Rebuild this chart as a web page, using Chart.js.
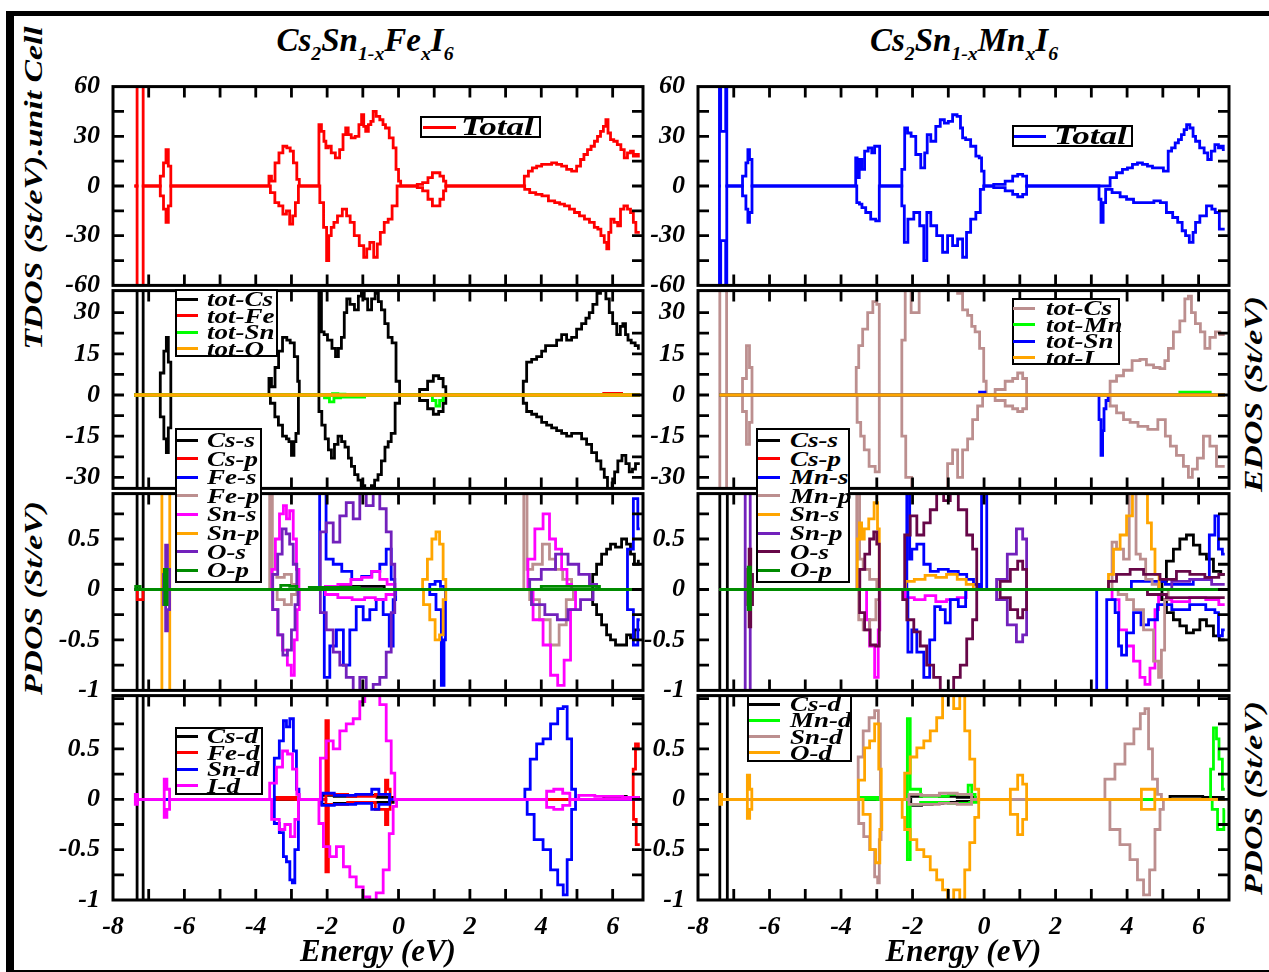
<!DOCTYPE html>
<html>
<head>
<meta charset="utf-8">
<script src="https://cdn.jsdelivr.net/npm/chart.js@4.4.1/dist/chart.umd.min.js"></script>
<style>
  body { margin: 0; background: #fff; overflow: hidden; width: 1269px; height: 972px; position: relative; }
  .t { position: absolute; white-space: nowrap; color: #000; font-family: "Liberation Serif", "DejaVu Serif", serif; font-weight: bold; font-style: italic; }
  .frame { position: absolute; left: 6px; top: 11px; width: 1280px; height: 954px; border-left: 8px solid #000; border-top: 5px solid #000; border-bottom: 3px solid #000; }
  .panel { position: absolute; }
  .leg { position: absolute; border: 2px solid #000; background: #fff; box-sizing: border-box; }
  .sw { position: absolute; height: 3px; }
  .lb { transform: scaleX(1.35); transform-origin: 0 50%; }
  .rot { transform: translate(-50%, -50%) rotate(-90deg) scaleX(1.35); }
  sub { font-size: 0.6em; vertical-align: -0.45em; line-height: 0; }
</style>
</head>
<body>
<div class="frame"></div>
<div class="t" style="left:365px;top:22px;font-size:33px;transform:translateX(-50%)">Cs<sub>2</sub>Sn<sub>1-x</sub>Fe<sub>x</sub>I<sub>6</sub></div>
<div class="t" style="left:964px;top:22px;font-size:33px;transform:translateX(-50%)">Cs<sub>2</sub>Sn<sub>1-x</sub>Mn<sub>x</sub>I<sub>6</sub></div>
<div class="t rot" style="left:34px;top:188px;font-size:25px">TDOS (St/eV).unit Cell</div>
<div class="t rot" style="left:34px;top:598px;font-size:25px">PDOS (St/eV)</div>
<div class="t rot" style="left:1254px;top:394px;font-size:25px">EDOS (St/eV)</div>
<div class="t rot" style="left:1254px;top:798px;font-size:25px">PDOS (St/eV)</div>
<script>
// ---------- labels / categories ----------
const totalNames = ['Total'];
const feEdosNames = ['tot-Cs', 'tot-Fe', 'tot-Sn', 'tot-O'];
const mnEdosNames = ['tot-Cs', 'tot-Mn', 'tot-Sn', 'tot-I'];
const feSpNames = ['Cs-s', 'Cs-p', 'Fe-s', 'Fe-p', 'Sn-s', 'Sn-p', 'O-s', 'O-p'];
const mnSpNames = ['Cs-s', 'Cs-p', 'Mn-s', 'Mn-p', 'Sn-s', 'Sn-p', 'O-s', 'O-p'];
const feDNames = ['Cs-d', 'Fe-d', 'Sn-d', 'I-d'];
const mnDNames = ['Cs-d', 'Mn-d', 'Sn-d', 'O-d'];

// ---------- tick labels ----------
const energyLabels = [-8, -6, -4, -2, 0, 2, 4, 6];
const tdosLabels = [60, 30, 0, -30, -60];
const edosLabels = [30, 15, 0, -15, -30];
const pdosLabels = [0.5, 0, -0.5, -1];

// ---------- TDOS, Fe ----------
const feTotalUp = [[-7.40,0],[-7.33,0],[-7.32,150],[-7.16,150],[-7.15,0],
  [-6.73,0],[-6.62,6],[-6.55,14],[-6.48,22],[-6.42,12],[-6.34,0],
  [-3.66,0],[-3.60,6],[-3.52,3],[-3.40,14],[-3.30,20],[-3.18,24],[-3.08,23],[-2.99,21],[-2.90,14],[-2.80,4],[-2.76,0],
  [-2.26,0],[-2.20,37],[-2.12,33],[-2.06,27],[-2.01,23],[-1.93,24],[-1.84,20],[-1.70,17],[-1.60,22],[-1.51,31],[-1.45,35],[-1.37,31],[-1.28,29],[-1.15,30],[-1.07,37],[-1.00,43],[-0.95,36],[-0.89,33],[-0.80,37],[-0.75,39],[-0.67,45],[-0.58,42],[-0.47,40],[-0.40,37],[-0.33,35],[-0.19,29],[-0.11,23],[-0.03,10],[0.03,3],[0.09,0],
  [0.45,0],[0.60,1],[0.75,2],[0.90,5],[1.00,8],[1.10,8],[1.22,6],[1.30,3],[1.35,0],
  [3.47,0],[3.58,6],[3.70,9],[3.80,11],[3.94,12],[4.08,13],[4.22,13],[4.36,14],[4.50,13],[4.64,12],[4.78,10],[4.92,9],[5.06,12],[5.14,16],[5.25,19],[5.34,22],[5.45,24],[5.53,27],[5.62,30],[5.70,33],[5.78,36],[5.84,40],[5.90,32],[5.98,28],[6.08,27],[6.18,25],[6.28,22],[6.37,17],[6.46,20],[6.54,21],[6.62,18],[6.68,19],[6.76,18]];
const feTotalDn = [[-7.40,0],[-7.33,0],[-7.32,-150],[-7.16,-150],[-7.15,0],
  [-6.73,0],[-6.62,-6],[-6.55,-14],[-6.48,-22],[-6.42,-12],[-6.34,0],
  [-3.66,0],[-3.52,-4],[-3.41,-10],[-3.30,-12],[-3.18,-17],[-3.10,-15],[-3.00,-23],[-2.93,-18],[-2.85,-10],[-2.76,0],
  [-2.26,0],[-2.15,-10],[-2.05,-25],[-1.98,-45],[-1.93,-30],[-1.84,-25],[-1.78,-22],[-1.64,-18],[-1.51,-14],[-1.40,-18],[-1.31,-22],[-1.17,-30],[-1.03,-36],[-0.92,-43],[-0.86,-38],[-0.75,-34],[-0.64,-43],[-0.55,-35],[-0.47,-28],[-0.33,-22],[-0.25,-20],[-0.11,-12],[0.03,0],
  [0.45,0],[0.60,-1],[0.75,-3],[0.90,-8],[1.00,-12],[1.10,-12],[1.22,-8],[1.30,-3],[1.35,0],
  [3.47,0],[3.60,-2],[3.75,-4],[3.94,-5],[4.10,-6],[4.30,-9],[4.45,-10],[4.58,-11],[4.72,-12],[4.86,-14],[5.00,-16],[5.14,-18],[5.28,-20],[5.42,-22],[5.55,-25],[5.62,-26],[5.72,-30],[5.81,-34],[5.86,-38],[5.92,-28],[5.98,-20],[6.10,-22],[6.18,-24],[6.26,-14],[6.37,-12],[6.46,-14],[6.54,-16],[6.62,-22],[6.68,-28],[6.76,-28]];

// ---------- TDOS, Mn ----------
const mnTotalUp = [[-7.42,0],[-7.38,150],[-7.35,33],[-7.24,33],[-7.21,150],[-7.18,0],
  [-6.81,0],[-6.70,6],[-6.62,14],[-6.59,22],[-6.53,16],[-6.45,0],
  [-3.60,0],[-3.58,17],[-3.52,5],[-3.46,16],[-3.38,10],[-3.30,21],[-3.18,23],[-3.10,20],[-3.02,24],[-2.94,24],[-2.90,0],
  [-2.34,0],[-2.26,10],[-2.18,35],[-2.10,32],[-1.98,30],[-1.84,19],[-1.70,11],[-1.62,20],[-1.56,31],[-1.42,27],[-1.28,36],[-1.17,40],[-1.05,38],[-0.95,39],[-0.81,43],[-0.70,42],[-0.62,35],[-0.58,29],[-0.45,28],[-0.30,24],[-0.16,18],[-0.11,17],[-0.03,9],[0.03,0],
  [0.09,0],[0.45,1],[0.73,3],[0.87,6],[1.01,7],[1.15,6],[1.23,0],
  [3.44,0],[3.61,5],[3.80,8],[3.94,10],[4.08,11],[4.22,13],[4.36,14],[4.50,13],[4.64,12],[4.78,11],[4.92,11],[5.11,9],[5.19,21],[5.30,23],[5.39,26],[5.48,28],[5.56,31],[5.63,34],[5.70,37],[5.81,35],[5.88,30],[5.95,27],[6.11,23],[6.20,20],[6.31,16],[6.40,21],[6.51,25],[6.60,23],[6.65,24],[6.73,22]];
const mnTotalDn = [[-7.42,0],[-7.38,-150],[-7.35,-33],[-7.24,-33],[-7.21,-150],[-7.18,0],
  [-6.81,0],[-6.70,-6],[-6.62,-14],[-6.59,-22],[-6.53,-16],[-6.45,0],
  [-3.60,0],[-3.52,-10],[-3.45,-11],[-3.38,-13],[-3.24,-16],[-3.10,-20],[-2.96,-21],[-2.90,0],
  [-2.34,0],[-2.26,-12],[-2.20,-34],[-2.06,-20],[-1.87,-16],[-1.73,-24],[-1.64,-45],[-1.56,-16],[-1.42,-24],[-1.23,-30],[-1.09,-40],[-0.95,-30],[-0.81,-36],[-0.67,-32],[-0.53,-43],[-0.45,-28],[-0.30,-20],[-0.16,-16],[-0.05,-2],[0.03,0],
  [0.09,0],[0.45,-1],[0.73,-3],[0.87,-5],[1.01,-6.5],[1.15,-5],[1.23,0],
  [3.19,0],[3.24,-8],[3.30,-22],[3.36,-10],[3.44,-2],[3.72,-4],[3.89,-6.5],[4.08,-8],[4.28,-10],[4.46,-10],[4.64,-10],[4.86,-9],[5.00,-10],[5.20,-16],[5.35,-19],[5.48,-22],[5.60,-27],[5.67,-30],[5.81,-34],[5.88,-28],[5.95,-22],[6.12,-18],[6.32,-12],[6.42,-14],[6.51,-16],[6.65,-26],[6.73,-26]];

// ---------- EDOS, Fe ----------
const feTotCsUp = [[-7.40,0],[-7.33,0],[-7.32,100],[-7.16,100],[-7.15,0],
  [-6.73,0],[-6.62,8],[-6.53,16],[-6.48,21],[-6.42,12],[-6.34,0],
  [-3.66,0],[-3.60,6],[-3.52,3],[-3.40,10],[-3.32,16],[-3.18,21],[-3.08,20],[-2.99,19],[-2.85,14],[-2.80,5],[-2.76,0],
  [-2.26,0],[-2.20,37],[-2.12,23],[-2.05,22],[-1.93,20],[-1.80,17],[-1.73,14],[-1.64,17],[-1.56,21],[-1.48,30],[-1.42,35],[-1.30,33],[-1.17,31],[-1.08,36],[-1.00,40],[-0.92,35],[-0.81,31],[-0.70,35],[-0.61,37],[-0.52,34],[-0.44,31],[-0.33,26],[-0.25,21],[-0.11,19],[-0.03,5],[0.09,0],
  [0.45,0],[0.73,2],[0.90,5],[1.05,7],[1.20,6],[1.30,3],[1.35,0],
  [3.47,0],[3.52,5],[3.66,12],[3.80,13],[3.94,14],[4.08,16],[4.16,18],[4.36,18],[4.50,20],[4.64,22],[4.78,20],[4.92,21],[5.06,24],[5.20,26],[5.30,28],[5.39,30],[5.50,33],[5.62,37],[5.70,39],[5.76,40],[5.86,35],[5.95,30],[6.05,26],[6.18,22],[6.25,25],[6.32,26],[6.40,22],[6.46,20],[6.58,19],[6.68,18],[6.76,17]];
const feTotCsDn = [[-7.40,0],[-7.33,0],[-7.32,-100],[-7.16,-100],[-7.15,0],
  [-6.73,0],[-6.62,-8],[-6.53,-16],[-6.48,-21],[-6.42,-12],[-6.34,0],
  [-3.66,0],[-3.52,-3],[-3.41,-8],[-3.32,-11],[-3.18,-15],[-3.10,-16],[-3.04,-17],[-2.96,-22],[-2.90,-17],[-2.85,-14],[-2.76,0],
  [-2.26,0],[-2.20,-6],[-2.10,-11],[-2.01,-16],[-1.92,-20],[-1.84,-23],[-1.75,-18],[-1.64,-15],[-1.55,-17],[-1.45,-19],[-1.36,-23],[-1.28,-26],[-1.18,-29],[-1.09,-31],[-1.00,-33],[-0.89,-36],[-0.80,-35],[-0.72,-33],[-0.62,-31],[-0.53,-29],[-0.43,-24],[-0.33,-19],[-0.25,-17],[-0.16,-14],[-0.03,-3],[0.09,0],
  [0.45,0],[0.73,-2],[0.90,-5],[1.05,-7],[1.20,-6],[1.30,-3],[1.35,0],
  [3.47,0],[3.52,-3],[3.66,-6],[3.80,-7],[3.94,-8],[4.08,-10],[4.22,-11],[4.36,-12],[4.50,-13],[4.64,-14],[4.78,-15],[4.92,-14],[5.06,-14],[5.20,-16],[5.34,-18],[5.48,-21],[5.62,-24],[5.72,-27],[5.81,-30],[5.90,-34],[5.95,-36],[6.02,-32],[6.09,-28],[6.20,-24],[6.32,-22],[6.42,-25],[6.51,-28],[6.60,-27],[6.68,-25],[6.76,-25]];
const feTotFeUp = [[-7.40,0],[5.70,0],[5.80,0.6],[6.20,0.6],[6.30,0],[6.76,0]];
const feTotFeDn = [[-7.40,0],[6.76,0]];
const feTotSnUp = [[-7.40,0],[-1.90,0],[-1.80,0.5],[-1.60,0.3],[-1.40,0],[6.76,0]];
const feTotSnDn = [[-7.40,0],[-2.15,0],[-2.00,-1],[-1.87,-2.5],[-1.75,-1],[-1.50,-0.8],[-1.00,-0.8],[-0.90,0],[0.90,0],[1.00,-2],[1.10,-4],[1.20,-2],[1.30,0],[6.76,0]];
const feTotOUp = [[-7.40,0],[6.76,0]];
const feTotODn = [[-7.40,0],[6.76,0]];

// ---------- EDOS, Mn ----------
const mnTotCsUp = [[-7.40,0],[-7.38,100],[-7.21,100],[-7.19,0],
  [-6.81,0],[-6.70,6],[-6.59,18],[-6.53,10],[-6.45,0],
  [-3.60,0],[-3.55,10],[-3.46,18],[-3.33,24],[-3.18,30],[-3.04,34],[-2.96,33],[-2.90,0],
  [-2.34,0],[-2.26,20],[-2.15,40],[-1.93,30],[-1.70,40],[-1.45,45],[-1.20,42],[-0.95,40],[-0.81,38],[-0.67,37],[-0.53,31],[-0.39,29],[-0.30,25],[-0.20,23],[-0.05,17],[0.03,5],[0.09,0],
  [0.17,0],[0.45,2],[0.73,5],[0.87,6],[1.01,8],[1.15,6],[1.23,0],
  [3.44,0],[3.61,5],[3.80,7],[4.00,9],[4.28,12.5],[4.44,13],[4.64,11],[4.84,10],[5.00,9.6],[5.11,12.5],[5.20,17],[5.39,23],[5.56,27],[5.67,35],[5.76,36],[5.84,30],[5.98,26],[6.12,23],[6.23,17],[6.40,21],[6.54,23],[6.65,22],[6.73,22]];
const mnTotCsDn = [[-7.40,0],[-7.38,-100],[-7.21,-100],[-7.19,0],
  [-6.81,0],[-6.70,-6],[-6.59,-18],[-6.53,-10],[-6.45,0],
  [-3.60,0],[-3.50,-10],[-3.40,-15],[-3.30,-20],[-3.13,-26],[-2.96,-28],[-2.90,0],
  [-2.34,0],[-2.26,-15],[-2.12,-30],[-1.93,-40],[-1.59,-40],[-1.28,-40],[-1.09,-38],[-0.95,-25],[-0.81,-20],[-0.67,-30],[-0.53,-20],[-0.39,-16],[-0.25,-9],[-0.11,-4],[0.03,0],
  [0.17,0],[0.45,-2],[0.73,-4],[0.87,-5],[1.01,-6],[1.15,-5],[1.23,0],
  [3.44,0],[3.61,-4],[3.80,-6.5],[4.00,-9],[4.17,-10],[4.44,-11.4],[4.72,-12.5],[5.00,-9],[5.14,-15],[5.28,-18.6],[5.48,-22],[5.67,-26],[5.76,-30],[5.89,-27],[6.04,-23],[6.23,-15],[6.40,-18.6],[6.60,-26],[6.73,-26]];
const mnTotMnUp = [[-7.40,0],[5.45,0],[5.50,1],[6.30,1],[6.35,0],[6.73,0]];
const mnTotMnDn = [[-7.40,0],[6.73,0]];
const mnTotSnUp = [[-7.40,0],[-0.15,0],[-0.10,1],[0.00,1],[0.05,0],[6.73,0]];
const mnTotSnDn = [[-7.40,0],[3.19,0],[3.24,-9],[3.30,-22],[3.33,-13],[3.38,-5],[3.44,-2],[3.50,0],[6.73,0]];
const mnTotIUp = [[-7.40,0],[6.73,0]];
const mnTotIDn = [[-7.40,0],[6.73,0]];

// ---------- PDOS s,p, Fe ----------
const feCssUp = [[-7.40,0],[-7.33,0],[-7.32,5],[-7.16,5],[-7.15,0],[-2.2,0],[-1.5,0.03],[-0.8,0.03],[0,0],[5.40,0],[5.48,0.15],[5.62,0.25],[5.76,0.35],[5.90,0.4],[5.98,0.45],[6.18,0.42],[6.32,0.5],[6.46,0.45],[6.54,0.35],[6.68,0.25],[6.76,0.28]];
const feCssDn = [[-7.40,0],[-7.33,0],[-7.32,-5],[-7.16,-5],[-7.15,0],[5.40,0],[5.48,-0.15],[5.62,-0.25],[5.76,-0.35],[5.90,-0.45],[5.98,-0.5],[6.18,-0.55],[6.32,-0.55],[6.46,-0.45],[6.54,-0.48],[6.68,-0.4],[6.76,-0.4]];
const feCspUp = [[-7.40,0],[6.76,0]];
const feCspDn = [[-7.40,0],[-7.33,0],[-7.31,-0.1],[-7.17,-0.1],[-7.15,0],[6.76,0]];
const feFesUp = [[-7.40,0],[-2.22,0],[-2.20,1.5],[-2.05,1.5],[-2.01,0.3],[-1.93,0.3],[-1.73,0.25],[-1.45,0.18],[-1.17,0.1],[-0.89,0.13],[-0.61,0.18],[-0.44,0.25],[-0.25,0.4],[-0.16,0.1],[-0.05,0],[0.80,0],[0.95,0.05],[1.10,0.08],[1.25,0.03],[1.32,0],[6.32,0],[6.51,0.4],[6.65,0.9],[6.76,0.6]];
const feFesDn = [[-7.40,0],[-2.15,0],[-2.01,-0.87],[-1.84,-0.56],[-1.64,-0.4],[-1.45,-0.75],[-1.28,-0.4],[-1.09,-0.17],[-0.89,-0.3],[-0.72,-0.2],[-0.53,-0.1],[-0.33,-0.25],[-0.19,-0.56],[-0.11,-0.1],[-0.05,0],[0.80,0],[0.95,-0.05],[1.15,-0.2],[1.25,-0.95],[1.30,-0.5],[1.33,0],[6.32,0],[6.51,-0.2],[6.65,-0.55],[6.76,-0.3]];
const feFepUp = [[-7.40,0],[-3.62,0],[-3.60,1.5],[-3.55,1.5],[-3.52,0.15],[-3.30,0.12],[-3.10,0.15],[-2.90,0.05],[-2.80,0],[3.50,0],[3.52,1.5],[3.58,1.5],[3.62,0.2],[3.90,0.25],[4.16,0.45],[4.30,0.3],[4.50,0.2],[4.70,0.1],[5.00,0],[6.76,0]];
const feFepDn = [[-7.40,0],[-3.50,0],[-3.30,-0.1],[-3.10,-0.15],[-2.90,-0.05],[-2.80,0],[3.55,0],[3.80,-0.1],[4.10,-0.3],[4.40,-0.55],[4.60,-0.35],[4.80,-0.1],[5.00,0],[6.76,0]];
const feSnsUp = [[-7.40,0],[-3.60,0],[-3.50,0.2],[-3.40,0.5],[-3.27,0.75],[-3.18,0.83],[-3.10,0.7],[-3.00,0.78],[-2.90,0.5],[-2.82,0.2],[-2.76,0],[-2.20,0],[-1.90,0.03],[-1.50,0.05],[-1.17,0.1],[-0.89,0.12],[-0.61,0.18],[-0.44,0.1],[-0.20,0.05],[0,0],[3.55,0],[3.70,0.3],[3.94,0.6],[4.16,0.75],[4.30,0.5],[4.50,0.4],[4.64,0.2],[4.80,0.05],[4.90,0],[6.76,0]];
const feSnsDn = [[-7.40,0],[-3.60,0],[-3.45,-0.2],[-3.32,-0.45],[-3.18,-0.6],[-3.05,-0.75],[-2.96,-0.85],[-2.88,-0.5],[-2.80,-0.2],[-2.76,0],[-2.20,0],[-1.90,-0.05],[-1.50,-0.08],[-1.10,-0.1],[-0.80,-0.08],[-0.50,-0.1],[-0.20,-0.05],[0,0],[3.60,0],[3.94,-0.3],[4.16,-0.55],[4.36,-0.85],[4.56,-0.95],[4.72,-0.7],[4.92,-0.2],[5.00,0],[6.76,0]];
const feSnpUp = [[-7.40,0],[-6.64,0],[-6.62,1.5],[-6.42,1.5],[-6.40,0],[0.60,0],[0.75,0.1],[0.87,0.3],[1.00,0.5],[1.10,0.57],[1.20,0.45],[1.30,0.1],[1.35,0],[6.76,0]];
const feSnpDn = [[-7.40,0],[-6.64,0],[-6.62,-1.5],[-6.42,-1.5],[-6.40,0],[0.60,0],[0.80,-0.15],[0.95,-0.3],[1.10,-0.5],[1.20,-0.45],[1.30,-0.1],[1.35,0],[6.76,0]];
const feOsUp = [[-7.40,0],[-6.62,0],[-6.55,0.15],[-6.50,0.44],[-6.45,0.2],[-6.38,0],[-3.60,0],[-3.45,0.15],[-3.32,0.35],[-3.20,0.6],[-3.10,0.55],[-3.00,0.45],[-2.90,0.25],[-2.80,0],[-2.26,0],[-2.12,0.57],[-1.93,0.66],[-1.73,0.47],[-1.56,0.73],[-1.37,0.86],[-1.17,0.7],[-1.00,0.98],[-0.81,0.83],[-0.61,1.05],[-0.44,0.8],[-0.25,0.57],[-0.16,0.25],[-0.05,0],[3.55,0],[3.80,0.1],[4.20,0.2],[4.60,0.35],[4.90,0.25],[5.20,0.15],[5.50,0.05],[5.60,0],[6.76,0]];
const feOsDn = [[-7.40,0],[-6.62,0],[-6.55,-0.15],[-6.50,-0.41],[-6.45,-0.2],[-6.38,0],[-3.60,0],[-3.45,-0.2],[-3.30,-0.45],[-3.18,-0.65],[-3.05,-0.6],[-2.95,-0.4],[-2.85,-0.15],[-2.78,0],[-2.26,0],[-2.12,-0.23],[-1.93,-0.4],[-1.73,-0.62],[-1.56,-0.75],[-1.37,-0.87],[-1.17,-1.05],[-1.00,-0.87],[-0.81,-1.05],[-0.61,-0.94],[-0.44,-0.87],[-0.25,-0.62],[-0.16,-0.23],[-0.05,0],[3.55,0],[3.90,-0.15],[4.30,-0.25],[4.60,-0.3],[4.90,-0.2],[5.30,-0.1],[5.60,0],[6.76,0]];
const feOpUp = [[-7.40,0],[-7.33,0.03],[-7.15,0],[-6.60,0],[-6.52,0.2],[-6.45,0],[-3.40,0],[-3.20,0.04],[-2.90,0.03],[-2.80,0],[-2.20,0.02],[0,0],[3.50,0],[4.50,0.03],[6.76,0]];
const feOpDn = [[-7.40,0],[-6.58,0],[-6.52,-0.15],[-6.45,0],[6.76,0]];

// ---------- PDOS s,p, Mn ----------
const mnCssUp = [[-7.40,0],[-7.38,5],[-7.19,5],[-7.17,0],[4.95,0],[5.00,0.08],[5.20,0.28],[5.39,0.4],[5.56,0.5],[5.76,0.54],[5.95,0.44],[6.12,0.35],[6.32,0.3],[6.51,0.18],[6.73,0.15]];
const mnCssDn = [[-7.40,0],[-7.38,-5],[-7.19,-5],[-7.17,0],[4.95,0],[5.00,-0.1],[5.20,-0.23],[5.39,-0.3],[5.56,-0.36],[5.76,-0.43],[5.95,-0.4],[6.12,-0.3],[6.32,-0.36],[6.51,-0.46],[6.65,-0.5],[6.73,-0.5]];
const mnCspUp = [[-7.40,0],[6.73,0]];
const mnCspDn = [[-7.40,0],[6.73,0]];
const mnMnsUp = [[-7.40,0],[-2.17,0],[-2.15,1.5],[-2.10,1.5],[-2.06,0.3],[-1.98,0.4],[-1.78,0.45],[-1.59,0.25],[-1.42,0.18],[-1.14,0.2],[-0.86,0.18],[-0.58,0.15],[-0.39,0.1],[-0.20,0.05],[-0.08,0],[-0.06,1.5],[0.06,1.5],[0.09,0],[3.60,0],[4.64,0.08],[5.50,0.05],[6.20,0.1],[6.40,0.54],[6.51,0.73],[6.60,0.4],[6.73,0.35]];
const mnMnsDn = [[-7.40,0],[-2.20,0],[-2.06,-0.62],[-1.98,-0.4],[-1.78,-0.62],[-1.59,-0.87],[-1.45,-0.5],[-1.31,-0.17],[-1.14,-0.2],[-1.03,-0.33],[-0.86,-0.1],[-0.58,-0.17],[-0.45,0],[3.14,0],[3.16,-1.5],[3.42,-1.5],[3.44,-0.1],[3.61,-0.1],[3.72,-0.23],[3.80,-0.56],[3.89,-0.65],[4.08,-0.43],[4.28,-0.23],[4.50,-0.35],[4.70,-0.3],[5.00,-0.15],[5.50,-0.2],[6.00,-0.15],[6.40,-0.2],[6.51,-0.23],[6.60,-0.46],[6.73,-0.4]];
const mnMnpUp = [[-7.40,0],[-3.57,0],[-3.55,1.5],[-3.50,1.5],[-3.46,0.3],[-3.30,0.2],[-3.10,0.1],[-2.90,0],[3.55,0],[3.61,0.47],[3.80,0.4],[4.00,0.3],[4.12,1.5],[4.20,1.5],[4.30,0.35],[4.44,0.3],[4.60,0.1],[4.80,0.05],[4.95,0],[6.73,0]];
const mnMnpDn = [[-7.40,0],[-3.55,0],[-3.46,-0.3],[-3.30,-0.4],[-3.10,-0.3],[-2.95,-0.1],[-2.90,0],[3.60,0],[3.90,-0.05],[4.08,-0.1],[4.28,-0.2],[4.64,-0.4],[4.84,-0.71],[4.92,-0.87],[5.00,-0.6],[5.10,-0.1],[5.20,0],[6.73,0]];
const mnSnsUp = [[-7.40,0],[-3.57,0],[-3.52,0.5],[-3.45,0.66],[-3.40,0.5],[-3.30,0.6],[-3.15,0.7],[-3.00,0.86],[-2.96,0.6],[-2.90,0],[-2.30,0],[-2.10,0.08],[-1.80,0.1],[-1.50,0.14],[-1.20,0.12],[-0.90,0.15],[-0.60,0.1],[-0.40,0.05],[-0.20,0],[3.44,0],[3.52,0.15],[3.72,0.4],[3.89,0.54],[4.08,0.73],[4.22,1.2],[4.50,1.2],[4.64,0.66],[4.72,0.4],[4.84,0.15],[4.95,0],[6.73,0]];
const mnSnsDn = [[-7.40,0],[6.73,0]];
const mnSnpUp = [[-7.40,0],[-6.69,0],[-6.67,1.5],[-6.55,1.5],[-6.53,0],[0.20,0],[0.50,0.1],[0.80,0.35],[1.01,0.6],[1.15,0.5],[1.23,0],[5.00,0],[5.50,0.08],[6.00,0.1],[6.73,0.05]];
const mnSnpDn = [[-7.40,0],[-6.69,0],[-6.67,-1.5],[-6.55,-1.5],[-6.53,0],[0.20,0],[0.50,-0.1],[0.80,-0.35],[1.01,-0.52],[1.15,-0.45],[1.23,0],[6.73,0]];
const mnOsUp = [[-7.40,0],[-6.62,0],[-6.59,0.2],[-6.55,0.4],[-6.50,0.15],[-6.45,0],[-3.55,0],[-3.40,0.2],[-3.27,0.35],[-3.13,0.5],[-3.04,0.57],[-2.96,0.45],[-2.90,0],[-2.29,0],[-2.15,0.54],[-1.98,0.73],[-1.78,0.54],[-1.59,0.66],[-1.42,0.79],[-1.23,1.0],[-1.03,0.88],[-0.86,1.0],[-0.58,0.79],[-0.39,0.54],[-0.25,0.4],[-0.16,0],[0.30,0],[0.60,0.08],[0.87,0.2],[1.01,0.28],[1.15,0.2],[1.23,0],[3.44,0],[3.52,0.08],[3.89,0.15],[4.28,0.2],[4.64,0.15],[5.20,0.1],[5.56,0.18],[5.95,0.15],[6.40,0.12],[6.73,0.15]];
const mnOsDn = [[-7.40,0],[-6.62,0],[-6.59,-0.15],[-6.55,-0.37],[-6.50,-0.15],[-6.45,0],[-3.55,0],[-3.41,-0.23],[-3.27,-0.4],[-3.10,-0.55],[-2.96,-0.56],[-2.90,0],[-2.29,0],[-2.26,-0.1],[-2.06,-0.3],[-1.87,-0.42],[-1.70,-0.56],[-1.51,-0.75],[-1.31,-0.87],[-1.14,-1.05],[-0.95,-1.0],[-0.75,-0.87],[-0.58,-0.75],[-0.39,-0.49],[-0.25,-0.3],[-0.16,0],[0.30,0],[0.60,-0.08],[0.87,-0.2],[1.01,-0.28],[1.15,-0.2],[1.23,0],[4.50,0],[4.64,-0.05],[5.56,-0.08],[6.73,-0.08]];
const mnOpUp = [[-7.40,0],[-6.62,0],[-6.57,0.22],[-6.50,0],[6.73,0]];
const mnOpDn = [[-7.40,0],[-6.62,0],[-6.57,-0.2],[-6.50,0],[6.73,0]];
const mnExtraDn = [[-7.40,0],[-3.30,0],[-3.27,-0.3],[-3.13,-0.56],[-2.99,-0.87],[-2.93,-0.4],[-2.90,0],[-2.30,0],[-2.10,-0.08],[-1.80,-0.1],[-1.50,-0.06],[-1.20,-0.12],[-0.90,-0.1],[-0.60,-0.08],[-0.40,0],[3.50,0],[3.66,-0.1],[3.89,-0.4],[4.08,-0.56],[4.28,-0.71],[4.44,-0.87],[4.56,-0.94],[4.72,-0.78],[4.84,-0.2],[4.92,-0.05],[5.00,-0.1],[5.50,-0.12],[6.00,-0.08],[6.40,-0.1],[6.73,-0.15]];
const mnExtraUp = [[-7.40,0],[6.73,0]];

// ---------- PDOS d, Fe ----------
const feCsdUp = [[-7.40,0],[-7.33,0],[-7.32,5],[-7.16,5],[-7.15,0],[-2.20,0],[-2.10,0.04],[-1.50,0.03],[-0.90,0.04],[-0.30,0.02],[0,0],[5.50,0],[6.00,0.03],[6.76,0.02]];
const feCsdDn = [[-7.40,0],[-7.33,0],[-7.32,-5],[-7.16,-5],[-7.15,0],[-2.20,0],[-2.10,-0.05],[-1.50,-0.04],[-0.90,-0.03],[-0.30,-0.03],[0,0],[6.76,0]];
const feFedUp = [[-7.40,0],[-3.50,0],[-3.45,0.02],[-2.90,0.02],[-2.85,0],[-2.05,0],[-2.02,0.78],[-1.98,0.78],[-1.95,0.05],[-0.90,0.03],[-0.40,0.05],[-0.33,0.19],[-0.27,0.1],[-0.20,0],[6.55,0],[6.60,0.3],[6.68,0.55],[6.76,0.5]];
const feFedDn = [[-7.40,0],[-2.05,0],[-2.02,-0.72],[-1.98,-0.72],[-1.95,-0.05],[-0.90,-0.03],[-0.40,-0.1],[-0.33,-0.25],[-0.27,-0.1],[-0.20,0],[6.55,0],[6.62,-0.2],[6.70,-0.45],[6.76,-0.45]];
const feSndUp = [[-7.40,0],[-3.55,0],[-3.41,0.41],[-3.27,0.58],[-3.18,0.78],[-3.10,0.72],[-2.99,0.8],[-2.90,0.48],[-2.82,0.1],[-2.76,0],[-2.20,0],[-2.10,0.06],[-1.50,0.04],[-0.90,0.05],[-0.60,0.1],[-0.50,0.05],[0,0],[3.50,0],[3.58,0.1],[3.80,0.4],[3.94,0.55],[4.16,0.6],[4.36,0.75],[4.56,0.9],[4.67,0.92],[4.78,0.6],[4.92,0.1],[5.00,0],[6.76,0]];
const feSndDn = [[-7.40,0],[-3.55,0],[-3.41,-0.24],[-3.27,-0.33],[-3.18,-0.57],[-3.10,-0.62],[-2.99,-0.8],[-2.96,-0.83],[-2.85,-0.5],[-2.76,0],[-2.20,0],[-2.10,-0.06],[-1.50,-0.05],[-0.90,-0.04],[-0.60,-0.1],[-0.50,-0.05],[0,0],[3.55,0],[3.66,-0.15],[3.94,-0.4],[4.16,-0.5],[4.36,-0.7],[4.56,-0.85],[4.67,-0.95],[4.78,-0.6],[4.92,-0.1],[5.00,0],[6.76,0]];
const feIdUp = [[-7.40,0],[-7.35,0.05],[-7.28,0],[-6.60,0],[-6.53,0.2],[-6.45,0.1],[-6.38,0],[-3.70,0],[-3.52,0.16],[-3.32,0.32],[-3.18,0.48],[-3.04,0.45],[-2.90,0.3],[-2.80,0.05],[-2.76,0],[-2.26,0],[-2.12,0.41],[-1.93,0.58],[-1.73,0.5],[-1.56,0.68],[-1.37,0.75],[-1.17,0.8],[-1.00,0.97],[-0.89,1.1],[-0.61,1.1],[-0.44,0.94],[-0.25,0.58],[-0.16,0.26],[-0.05,0],[4.10,0],[4.20,0.08],[4.50,0.1],[4.70,0.06],[4.90,0],[5.20,0.04],[5.80,0.03],[6.76,0.02]];
const feIdDn = [[-7.40,0],[-7.35,-0.05],[-7.28,0],[-6.60,0],[-6.53,-0.18],[-6.45,-0.1],[-6.38,0],[-3.70,0],[-3.41,-0.2],[-3.27,-0.3],[-3.10,-0.25],[-2.96,-0.37],[-2.85,-0.2],[-2.76,0],[-2.26,0],[-2.20,-0.24],[-2.01,-0.47],[-1.84,-0.57],[-1.64,-0.47],[-1.45,-0.67],[-1.28,-0.77],[-1.09,-0.87],[-0.89,-0.97],[-0.72,-1.05],[-0.53,-0.93],[-0.33,-0.7],[-0.19,-0.34],[-0.11,-0.07],[0,0],[4.10,0],[4.20,-0.08],[4.50,-0.1],[4.70,-0.06],[4.90,0],[6.76,0]];

// ---------- PDOS d, Mn ----------
const mnCsdUp = [[-7.40,0],[-7.38,5],[-7.19,5],[-7.17,0],[-2.20,0],[-2.00,0.03],[-1.50,0.04],[-1.00,0.03],[-0.50,0.02],[0,0],[4.90,0],[5.50,0.03],[6.73,0.02]];
const mnCsdDn = [[-7.40,0],[-7.38,-5],[-7.19,-5],[-7.17,0],[-2.20,0],[-1.90,-0.06],[-1.60,-0.05],[-1.30,-0.04],[-1.00,-0.03],[-0.50,-0.02],[0,0],[6.73,0]];
const mnMndUp = [[-7.40,0],[-3.50,0],[-3.45,0.02],[-3.00,0.02],[-2.95,0],[-2.16,0],[-2.13,0.8],[-2.08,0.8],[-2.05,0.1],[-1.50,0.03],[-0.50,0.05],[-0.39,0.14],[-0.30,0.05],[-0.20,0],[6.30,0],[6.37,0.3],[6.46,0.71],[6.54,0.6],[6.60,0.4],[6.73,0.1]];
const mnMndDn = [[-7.40,0],[-2.16,0],[-2.13,-0.6],[-2.08,-0.6],[-2.05,-0.05],[-1.50,-0.03],[-0.50,-0.04],[-0.30,-0.03],[0,0],[6.30,0],[6.46,-0.1],[6.60,-0.3],[6.68,-0.3],[6.73,-0.1]];
const mnSndUp = [[-7.40,0],[-3.58,0],[-3.46,0.42],[-3.30,0.68],[-3.13,0.81],[-2.99,0.88],[-2.92,0.75],[-2.88,0],[-2.20,0],[-2.00,0.05],[-1.50,0.04],[-1.00,0.06],[-0.50,0.05],[-0.20,0],[3.24,0],[3.52,0.2],[3.80,0.35],[4.08,0.55],[4.30,0.7],[4.44,0.85],[4.56,0.9],[4.64,0.5],[4.78,0.2],[4.92,0.05],[5.00,0],[6.73,0]];
const mnSndDn = [[-7.40,0],[-3.55,0],[-3.46,-0.24],[-3.27,-0.37],[-3.13,-0.5],[-2.99,-0.77],[-2.96,-0.83],[-2.90,-0.4],[-2.86,0],[-2.20,0],[-2.00,-0.05],[-1.50,-0.05],[-1.00,-0.04],[-0.50,-0.05],[-0.20,0],[3.38,0],[3.66,-0.3],[3.94,-0.45],[4.22,-0.6],[4.36,-0.8],[4.56,-0.95],[4.70,-0.7],[4.86,-0.3],[4.98,-0.1],[5.05,0],[6.73,0]];
const mnOdUp = [[-7.40,0],[-7.38,0.05],[-7.30,0],[-6.65,0],[-6.59,0.24],[-6.52,0.1],[-6.47,0],[-3.62,0],[-3.41,0.19],[-3.27,0.51],[-3.13,0.58],[-2.99,0.75],[-2.90,0.3],[-2.85,0],[-2.29,0],[-2.15,0.26],[-1.98,0.42],[-1.78,0.51],[-1.59,0.58],[-1.42,0.68],[-1.23,0.81],[-1.09,1.1],[-0.95,1.1],[-0.75,0.9],[-0.61,1.1],[-0.47,0.68],[-0.33,0.4],[-0.19,0.1],[-0.11,0],[0.60,0],[0.87,0.1],[1.01,0.24],[1.15,0.15],[1.23,0],[4.30,0],[4.50,0.1],[4.70,0.1],[4.85,0],[6.73,0]];
const mnOdDn = [[-7.40,0],[-7.38,-0.05],[-7.30,0],[-6.65,0],[-6.59,-0.19],[-6.52,-0.1],[-6.47,0],[-3.50,0],[-3.27,-0.15],[-3.10,-0.5],[-2.96,-0.63],[-2.87,-0.3],[-2.85,0],[-2.29,0],[-2.29,-0.18],[-2.15,-0.3],[-1.98,-0.4],[-1.78,-0.5],[-1.59,-0.57],[-1.42,-0.7],[-1.23,-0.8],[-1.09,-0.9],[-0.95,-1.05],[-0.75,-0.9],[-0.61,-1.05],[-0.47,-0.7],[-0.33,-0.43],[-0.19,-0.18],[-0.11,0],[0.60,0],[0.87,-0.15],[1.01,-0.35],[1.15,-0.2],[1.23,0],[4.30,0],[4.50,-0.1],[4.70,-0.1],[4.85,0],[6.73,0]];

// ---------- styles ----------
const BLACK = '#000000', RED = '#ff0000', GREEN = '#00ff00', BLUE = '#0000ff', BROWN = '#bc8f8f',
      MAGENTA = '#ff00ff', ORANGE = '#ffa500', INDIGO = '#7221bc', MAROON = '#670748', GREEN4 = '#008b00';

const COLS = [{l: 113, r: 643}, {l: 698, r: 1229}];
const ROWS = [{t: 84, b: 288}, {t: 288, b: 491}, {t: 491, b: 693}, {t: 693, b: 900}];
const yAxes = {
  tdos: {min: -60, max: 60, step: 15, labels: tdosLabels},
  edos: {min: -34, max: 38, step: 7.5, labels: edosLabels},
  pdos3: {min: -1, max: 0.95, step: 0.25, labels: pdosLabels},
  pdos4: {min: -1, max: 1.03, step: 0.25, labels: pdosLabels}
};
const tickFont = {family: 'Liberation Serif', size: 26, style: 'italic', weight: 'bold'};
const titleFont = {family: 'Liberation Serif', size: 31, style: 'italic', weight: 'bold'};

const panels = [
  {col: 0, row: 0, axis: 'tdos', sets: [[feTotalUp, feTotalDn, RED]]},
  {col: 1, row: 0, axis: 'tdos', sets: [[mnTotalUp, mnTotalDn, BLUE]]},
  {col: 0, row: 1, axis: 'edos', sets: [[feTotCsUp, feTotCsDn, BLACK], [feTotFeUp, feTotFeDn, RED], [feTotSnUp, feTotSnDn, GREEN], [feTotOUp, feTotODn, ORANGE]]},
  {col: 1, row: 1, axis: 'edos', sets: [[mnTotCsUp, mnTotCsDn, BROWN], [mnTotMnUp, mnTotMnDn, GREEN], [mnTotSnUp, mnTotSnDn, BLUE], [mnTotIUp, mnTotIDn, ORANGE]]},
  {col: 0, row: 2, axis: 'pdos3', sets: [[feCssUp, feCssDn, BLACK], [feCspUp, feCspDn, RED], [feFesUp, feFesDn, BLUE], [feFepUp, feFepDn, BROWN],
    [feSnsUp, feSnsDn, MAGENTA], [feSnpUp, feSnpDn, ORANGE], [feOsUp, feOsDn, INDIGO], [feOpUp, feOpDn, GREEN4]]},
  {col: 1, row: 2, axis: 'pdos3', sets: [[mnExtraUp, mnExtraDn, MAGENTA], [mnCssUp, mnCssDn, BLACK], [mnCspUp, mnCspDn, RED], [mnMnsUp, mnMnsDn, BLUE], [mnMnpUp, mnMnpDn, BROWN],
    [mnSnsUp, mnSnsDn, ORANGE], [mnSnpUp, mnSnpDn, INDIGO], [mnOsUp, mnOsDn, MAROON], [mnOpUp, mnOpDn, GREEN4]]},
  {col: 0, row: 3, axis: 'pdos4', sets: [[feCsdUp, feCsdDn, BLACK], [feFedUp, feFedDn, RED], [feSndUp, feSndDn, BLUE], [feIdUp, feIdDn, MAGENTA]]},
  {col: 1, row: 3, axis: 'pdos4', sets: [[mnCsdUp, mnCsdDn, BLACK], [mnMndUp, mnMndDn, GREEN], [mnSndUp, mnSndDn, BROWN], [mnOdUp, mnOdDn, ORANGE]]}
];

// inward ticks on all four sides + frame
const frameTicks = {
  id: 'frameTicks',
  afterDatasetsDraw(chart) {
    const {ctx, chartArea: a} = chart;
    const xs = chart.scales.x, ys = chart.scales.y;
    const L = 11;
    ctx.save();
    ctx.strokeStyle = '#000';
    ctx.lineWidth = 2.8;
    ctx.beginPath();
    xs.ticks.forEach(t => {
      const p = xs.getPixelForValue(t.value);
      if (p <= a.left + 2 || p >= a.right - 2) return;
      ctx.moveTo(p, a.top); ctx.lineTo(p, a.top + L);
      ctx.moveTo(p, a.bottom); ctx.lineTo(p, a.bottom - L);
    });
    ys.ticks.forEach(t => {
      const p = ys.getPixelForValue(t.value);
      if (p <= a.top + 2 || p >= a.bottom - 2) return;
      ctx.moveTo(a.left, p); ctx.lineTo(a.left + L, p);
      ctx.moveTo(a.right, p); ctx.lineTo(a.right - L, p);
    });
    ctx.stroke();
    ctx.lineWidth = 3;
    ctx.strokeRect(a.left, a.top, a.right - a.left, a.bottom - a.top);
    ctx.restore();
  }
};

const toXY = arr => arr.map(([x, y]) => ({x, y}));

function makePanel(p) {
  const col = COLS[p.col], row = ROWS[p.row], ax = yAxes[p.axis];
  const last = p.row === 3;
  const padTop = 18, padBot = last ? 0 : 18, padR = 12, yW = 60, xH = last ? 72 : 0;
  const div = document.createElement('div');
  div.className = 'panel';
  div.style.left = (col.l - yW) + 'px';
  div.style.top = (row.t - padTop) + 'px';
  div.style.width = (col.r - col.l + yW + padR) + 'px';
  div.style.height = (row.b - row.t + padTop + padBot + xH) + 'px';
  const cv = document.createElement('canvas');
  div.appendChild(cv);
  document.body.appendChild(div);

  const datasets = [];
  p.sets.forEach(([up, dn, color]) => {
    datasets.push({data: toXY(up), borderColor: color});
    datasets.push({data: toXY(dn), borderColor: color});
  });
  datasets.reverse(); // last legend entry on top

  new Chart(cv, {
    type: 'line',
    data: {datasets},
    options: {
      responsive: true,
      maintainAspectRatio: false,
      animation: false,
      events: [],
      layout: {padding: {top: padTop, bottom: padBot, left: 0, right: padR}},
      plugins: {legend: {display: false}, tooltip: {enabled: false}},
      elements: {
        point: {radius: 0},
        line: {tension: 0, stepped: 'middle', borderWidth: 2.8, borderJoinStyle: 'miter', fill: false}
      },
      scales: {
        x: {
          type: 'linear', min: -8, max: 6.85,
          grid: {display: false}, border: {display: false},
          ticks: {
            display: last, stepSize: 1, autoSkip: false, includeBounds: false, maxTicksLimit: 1000,
            maxRotation: 0, padding: 4, color: '#000', font: tickFont,
            callback: v => energyLabels.includes(v) ? String(v) : ''
          },
          title: {display: last, text: 'Energy (eV)', color: '#000', font: titleFont, padding: 0},
          afterFit: s => { s.height = xH; }
        },
        y: {
          type: 'linear', min: ax.min, max: ax.max,
          grid: {display: false}, border: {display: false},
          ticks: {
            stepSize: ax.step, autoSkip: false, includeBounds: false, maxTicksLimit: 1000,
            padding: 5, color: '#000', font: tickFont,
            callback: v => ax.labels.some(l => Math.abs(l - v) < 1e-6) ? String(Math.round(v * 100) / 100) : ''
          },
          afterFit: s => { s.width = yW; }
        }
      }
    },
    plugins: [frameTicks]
  });
}

panels.forEach(makePanel);

// ---------- legends (HTML boxes) ----------
function addLegend(g, names, colors) {
  const box = document.createElement('div');
  box.className = 'leg';
  Object.assign(box.style, {left: g.x + 'px', top: g.y + 'px', width: g.w + 'px', height: g.h + 'px'});
  document.body.appendChild(box);
  names.forEach((n, i) => {
    const cy = g.y0 + i * g.dy;
    const sw = document.createElement('div');
    sw.className = 'sw';
    Object.assign(sw.style, {left: g.sw[0] + 'px', width: (g.sw[1] - g.sw[0]) + 'px', top: (cy - 1.5) + 'px', background: colors[i]});
    document.body.appendChild(sw);
    const tx = document.createElement('div');
    tx.className = 't lb';
    tx.textContent = n;
    Object.assign(tx.style, {left: g.tx + 'px', top: (cy - g.fs * 0.6) + 'px', fontSize: g.fs + 'px', lineHeight: (g.fs * 1.2) + 'px'});
    document.body.appendChild(tx);
  });
}

addLegend({x: 420, y: 116, w: 121, h: 22, sw: [423, 456], tx: 461, y0: 127, dy: 0, fs: 26}, totalNames, [RED]);
addLegend({x: 1012, y: 125, w: 121, h: 22, sw: [1014, 1046], tx: 1054, y0: 136, dy: 0, fs: 26}, totalNames, [BLUE]);
addLegend({x: 175, y: 289, w: 103, h: 68, sw: [177, 198], tx: 207, y0: 299, dy: 16.5, fs: 20}, feEdosNames, [BLACK, RED, GREEN, ORANGE]);
addLegend({x: 1012, y: 298, w: 108, h: 67, sw: [1013, 1035], tx: 1046, y0: 308, dy: 16.5, fs: 20}, mnEdosNames, [BROWN, GREEN, BLUE, ORANGE]);
addLegend({x: 175, y: 428, w: 87, h: 155, sw: [177, 198], tx: 207, y0: 440, dy: 18.6, fs: 20}, feSpNames, [BLACK, RED, BLUE, BROWN, MAGENTA, ORANGE, INDIGO, GREEN4]);
addLegend({x: 756, y: 428, w: 94, h: 155, sw: [758, 780], tx: 790, y0: 440, dy: 18.6, fs: 20}, mnSpNames, [BLACK, RED, BLUE, BROWN, ORANGE, INDIGO, MAROON, GREEN4]);
addLegend({x: 175, y: 727, w: 88, h: 68, sw: [177, 198], tx: 207, y0: 736, dy: 16.5, fs: 20}, feDNames, [BLACK, RED, BLUE, MAGENTA]);
addLegend({x: 747, y: 695, w: 105, h: 67, sw: [749, 780], tx: 790, y0: 704, dy: 16.3, fs: 20}, mnDNames, [BLACK, GREEN, BROWN, ORANGE]);
</script>
</body>
</html>
